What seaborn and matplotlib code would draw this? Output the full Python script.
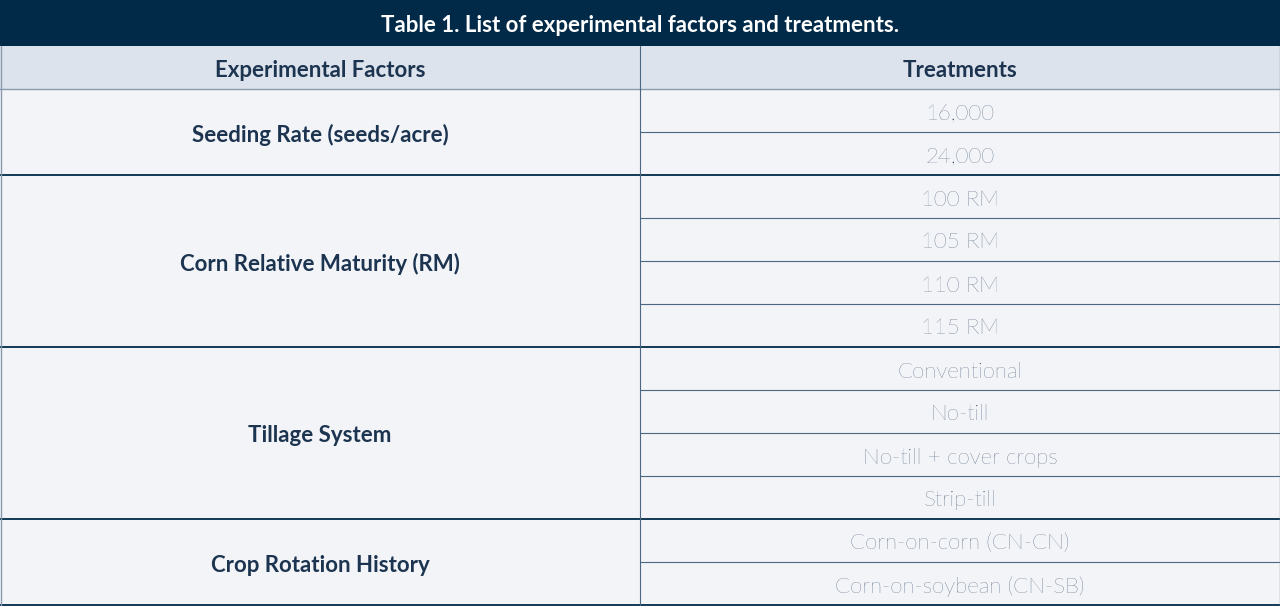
import matplotlib
matplotlib.use("Agg")
import matplotlib.pyplot as plt
import seaborn as sns
from matplotlib.patches import Rectangle

sns.set_theme(style="white")
plt.rcParams["font.family"] = "Lato"

title = "Table 1. List of experimental factors and treatments."
col_headers = ["Experimental Factors", "Treatments"]
factors = ["Seeding Rate (seeds/acre)", "Corn Relative Maturity (RM)",
           "Tillage System", "Crop Rotation History"]
group_sizes = [2, 4, 4, 2]
treatments = ["16,000", "24,000", "100 RM", "105 RM", "110 RM", "115 RM",
              "Conventional", "No-till", "No-till + cover crops", "Strip-till",
              "Corn-on-corn (CN-CN)", "Corn-on-soybean (CN-SB)"]

W, H = 1280, 612
navy = "#012a48"
txt = "#1c3450"
body_bg = "#f2f4f8"
head_bg = "#dde3ec"
title_h, head_h, row_h = 46, 43, 43.0
split = 640
fs = 16
dy = 3

fig = plt.figure(figsize=(12.8, 6.12), dpi=100)
ax = fig.add_axes([0, 0, 1, 1])
ax.set_xlim(0, W); ax.set_ylim(H, 0); ax.axis("off")
fig.patch.set_facecolor("white")

ax.add_patch(Rectangle((0, 0), W, title_h, color=navy))
ax.text(W / 2, title_h / 2 + dy, title, color="white", fontsize=fs, fontweight="bold",
        ha="center", va="center")
y0 = title_h
ax.add_patch(Rectangle((0, y0), W, head_h, facecolor=head_bg, edgecolor="none"))
ax.text(split / 2, y0 + head_h / 2 + dy, col_headers[0], color=txt, fontsize=fs,
        fontweight="bold", ha="center", va="center")
ax.text(split + (W - split) / 2, y0 + head_h / 2 + dy, col_headers[1], color=txt,
        fontsize=fs, fontweight="bold", ha="center", va="center")
yb = y0 + head_h
n = len(treatments)
ax.add_patch(Rectangle((0, yb), W, n * row_h, facecolor=body_bg, edgecolor="none"))
ax.plot([0, W], [yb, yb], color="#8a9bb0", lw=1)

i = 0
for f, g in zip(factors, group_sizes):
    top = yb + i * row_h
    ax.text(split / 2, top + g * row_h / 2 + dy, f, color=txt, fontsize=fs,
            fontweight="bold", ha="center", va="center")
    for k in range(g):
        y = top + k * row_h
        ax.text(split + (W - split) / 2, y + row_h / 2 + dy, treatments[i + k],
                color=txt, fontsize=fs, fontweight="light", ha="center", va="center")
        if k > 0:
            ax.plot([split, W], [y, y], color="#4a6680", lw=0.8)
    i += g
    ybot = yb + i * row_h
    ax.plot([0, W], [ybot, ybot], color=navy, lw=1.3)

ax.plot([split, split], [y0, yb + n * row_h], color="#4a6680", lw=0.8)
ax.plot([0.5, 0.5], [y0, yb + n * row_h], color="#8a9bb0", lw=1)
ax.plot([W - 0.5, W - 0.5], [y0, yb + n * row_h], color="#8a9bb0", lw=1)

fig.savefig("out.png", dpi=100)
